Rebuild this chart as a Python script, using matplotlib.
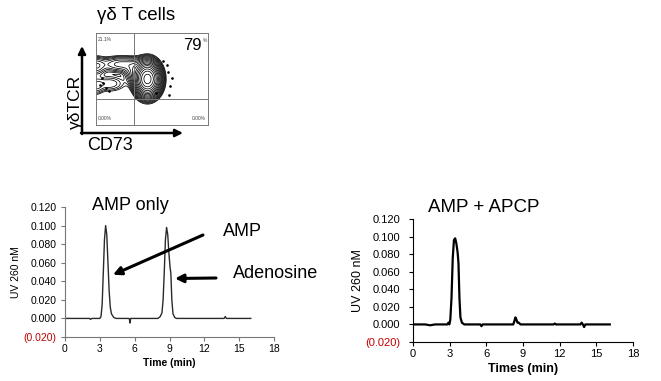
import numpy as np
import matplotlib
matplotlib.use("Agg")
import matplotlib.pyplot as plt

plt.rcParams['font.family'] = ['Liberation Sans', 'DejaVu Sans']

# ---------------- data ----------------
# AMP only chromatogram (time in min, absorbance)
amp_time = [0.0, 1.0, 2.1, 2.2, 2.3, 3.0, 3.1, 3.2, 3.3, 3.4, 3.5, 3.6, 3.7, 3.8, 3.9, 4.0, 4.2, 4.4,
            5.5, 5.55, 5.6, 5.65, 5.7, 8.0, 8.2, 8.35, 8.45, 8.55, 8.65, 8.75, 8.85, 8.95, 9.05,
            9.12, 9.2, 9.3, 9.45, 9.6, 13.7, 13.8, 13.9, 16.0]
amp_val = [0.0, 0.0, 0.0, -0.001, 0.0, 0.0, 0.002, 0.015, 0.05, 0.085, 0.100, 0.090, 0.060, 0.030,
           0.012, 0.005, 0.001, 0.0, 0.0, -0.001, -0.005, 0.0, 0.0, 0.0, 0.002, 0.006, 0.02, 0.05,
           0.085, 0.098, 0.09, 0.07, 0.055, 0.048, 0.02, 0.005, 0.001, 0.0, 0.0, 0.002, 0.0, 0.0]

# AMP + APCP chromatogram
apcp_time = [0.0, 1.0, 1.4, 1.8, 2.8, 2.9, 2.97, 3.05, 3.15, 3.25, 3.35, 3.45, 3.55, 3.65, 3.72,
             3.8, 3.88, 4.0, 4.2, 5.5, 5.6, 5.7, 8.2, 8.3, 8.38, 8.45, 8.55, 8.65, 8.8, 11.5, 11.6,
             11.7, 13.7, 13.8, 13.9, 14.0, 14.1, 16.1]
apcp_val = [0.0, 0.0, -0.001, 0.0, 0.0, 0.002, 0.0, 0.005, 0.03, 0.075, 0.096, 0.098, 0.092, 0.082,
            0.07, 0.03, 0.008, 0.002, 0.0, 0.0, -0.002, 0.0, 0.0, 0.004, 0.008, 0.006, 0.002, 0.002,
            0.0, 0.0, 0.001, 0.0, 0.0, 0.002, 0.0, -0.003, 0.0, 0.0]

y_ticks = [-0.02, 0.0, 0.02, 0.04, 0.06, 0.08, 0.10, 0.12]
y_tick_labels = ['(0.020)', '0.000', '0.020', '0.040', '0.060', '0.080', '0.100', '0.120']
x_ticks = [0, 3, 6, 9, 12, 15, 18]

# flow cytometry contour: gaussian populations (x, y, sx, sy, weight) in axis fractions
pop_x = [0.46, 0.22, 0.0, 0.12, 0.34, 0.0]
pop_y = [0.50, 0.66, 0.64, 0.45, 0.58, 0.42]
pop_sx = [0.055, 0.11, 0.05, 0.09, 0.05, 0.04]
pop_sy = [0.09, 0.05, 0.06, 0.055, 0.07, 0.06]
pop_w = [1.0, 0.06, 0.05, 0.03, 0.05, 0.025]
dots_x = [0.036, 0.065, 0.089, 0.05, 0.631, 0.646, 0.676, 0.66, 0.655, 0.54, 0.12, 0.6]
dots_y = [0.435, 0.453, 0.40, 0.51, 0.652, 0.58, 0.51, 0.42, 0.33, 0.35, 0.37, 0.70]
quad_labels = ['21.1%', '0.00%', '0.00%']
main_pct = '79'

W, H = 661, 381
fig = plt.figure(figsize=(W / 100, H / 100), dpi=100)
fig.patch.set_facecolor('white')

def px_axes(x0, y0, x1, y1):
    return fig.add_axes([x0 / W, 1 - y1 / H, (x1 - x0) / W, (y1 - y0) / H])

red = '#c00000'

def style_chrom(ax, spine_col, tick_fs, ypad):
    ax.set_xlim(0, 18)
    ax.set_ylim(-0.02, 0.12)
    for s in ['top', 'right']:
        ax.spines[s].set_visible(False)
    for s in ['left', 'bottom']:
        ax.spines[s].set_color(spine_col)
        ax.spines[s].set_linewidth(0.8)
    ax.set_yticks(y_ticks)
    ax.set_yticklabels(y_tick_labels, fontsize=tick_fs)
    ax.set_xticks(x_ticks)
    ax.set_xticklabels([str(t) for t in x_ticks], fontsize=tick_fs)
    ax.tick_params(length=3, width=0.8, color=spine_col, pad=2)
    ax.tick_params(axis='y', pad=ypad)
    ax.get_yticklabels()[0].set_color(red)

# ---------------- left chromatogram ----------------
ax1 = px_axes(65, 207, 274, 337)
ax1.plot(amp_time, amp_val, color='#2a2a2a', lw=1.0)
style_chrom(ax1, '#777777', 7.5, 3)
ax1.set_xlabel('Time (min)', fontsize=7.5, fontweight='bold', labelpad=3)
ax1.set_ylabel('UV 260 nM', fontsize=7.5, labelpad=2)
fig.text(92 / W, 1 - 206 / H, 'AMP only', fontsize=13, va='center', ha='left')
fig.text(223 / W, 1 - 232 / H, 'AMP', fontsize=13, va='center', ha='left')
fig.text(233 / W, 1 - 273 / H, 'Adenosine', fontsize=13, va='center', ha='left')
ax1.annotate('', xy=(4.13, 0.047), xycoords='data', xytext=(203, H - 235),
             textcoords='figure pixels',
             arrowprops=dict(arrowstyle='-|>', color='black', lw=2.2, mutation_scale=12,
                             shrinkA=0, shrinkB=0))
ax1.annotate('', xy=(9.47, 0.043), xycoords='data', xytext=(216, H - 278),
             textcoords='figure pixels',
             arrowprops=dict(arrowstyle='-|>', color='black', lw=2.2, mutation_scale=12,
                             shrinkA=0, shrinkB=0))

# ---------------- right chromatogram ----------------
ax2 = px_axes(413, 219, 633, 342)
ax2.plot(apcp_time, apcp_val, color='black', lw=1.6)
style_chrom(ax2, 'black', 8, 6)
ax2.set_xlabel('Times (min)', fontsize=9, fontweight='bold', labelpad=3)
ax2.set_ylabel('UV 260 nM', fontsize=9, labelpad=1)
fig.text(428 / W, 1 - 207 / H, 'AMP + APCP', fontsize=13.5, va='center', ha='left')

# ---------------- flow plot ----------------
ax3 = px_axes(96, 33, 208, 125)
gx = np.linspace(0, 1, 400)
gy = np.linspace(0, 1, 400)
GX, GY = np.meshgrid(gx, gy)
dens = np.zeros_like(GX)
for x0, y0, sx, sy, w in zip(pop_x, pop_y, pop_sx, pop_sy, pop_w):
    dens += w * np.exp(-((GX - x0) ** 2 / (2 * sx ** 2) + (GY - y0) ** 2 / (2 * sy ** 2)))
levels = 0.01 * 1.32 ** np.arange(0, 17)
ax3.contour(GX, GY, dens, levels=levels, colors='black', linewidths=0.55)
ax3.scatter(dots_x, dots_y, s=0.8, color='black')
ax3.axvline(0.34, color='#777777', lw=0.7)
ax3.axhline(0.28, color='#777777', lw=0.7)
ax3.set_xlim(0, 1)
ax3.set_ylim(0, 1)
ax3.set_xticks([])
ax3.set_yticks([])
for s in ax3.spines.values():
    s.set_color('#777777')
    s.set_linewidth(0.7)
ax3.text(0.02, 0.96, quad_labels[0], fontsize=3.5, va='top', ha='left', color='#444444')
ax3.text(0.02, 0.04, quad_labels[1], fontsize=3.5, va='bottom', ha='left', color='#444444')
ax3.text(0.98, 0.04, quad_labels[2], fontsize=3.5, va='bottom', ha='right', color='#444444')
ax3.text(0.94, 0.86, main_pct, fontsize=12, va='center', ha='right')
ax3.text(0.95, 0.95, '%', fontsize=3.5, va='top', ha='left', color='#444444')

fig.text(97 / W, 1 - 15 / H, 'γδ T cells', fontsize=13.5, va='center', ha='left')
fig.text(75 / W, 1 - 102 / H, 'γδTCR', fontsize=12.5, va='center', ha='center', rotation=90)
fig.text(87 / W, 1 - 145 / H, 'CD73', fontsize=13, va='center', ha='left')
ax3.annotate('', xy=(82, H - 46), xycoords='figure pixels', xytext=(82, H - 134),
             textcoords='figure pixels',
             arrowprops=dict(arrowstyle='-|>', color='black', lw=1.8, mutation_scale=11,
                             shrinkA=0, shrinkB=0), annotation_clip=False)
ax3.annotate('', xy=(183, H - 133), xycoords='figure pixels', xytext=(81, H - 133),
             textcoords='figure pixels',
             arrowprops=dict(arrowstyle='-|>', color='black', lw=1.8, mutation_scale=11,
                             shrinkA=0, shrinkB=0), annotation_clip=False)

fig.savefig('out.png', dpi=100, facecolor='white')
